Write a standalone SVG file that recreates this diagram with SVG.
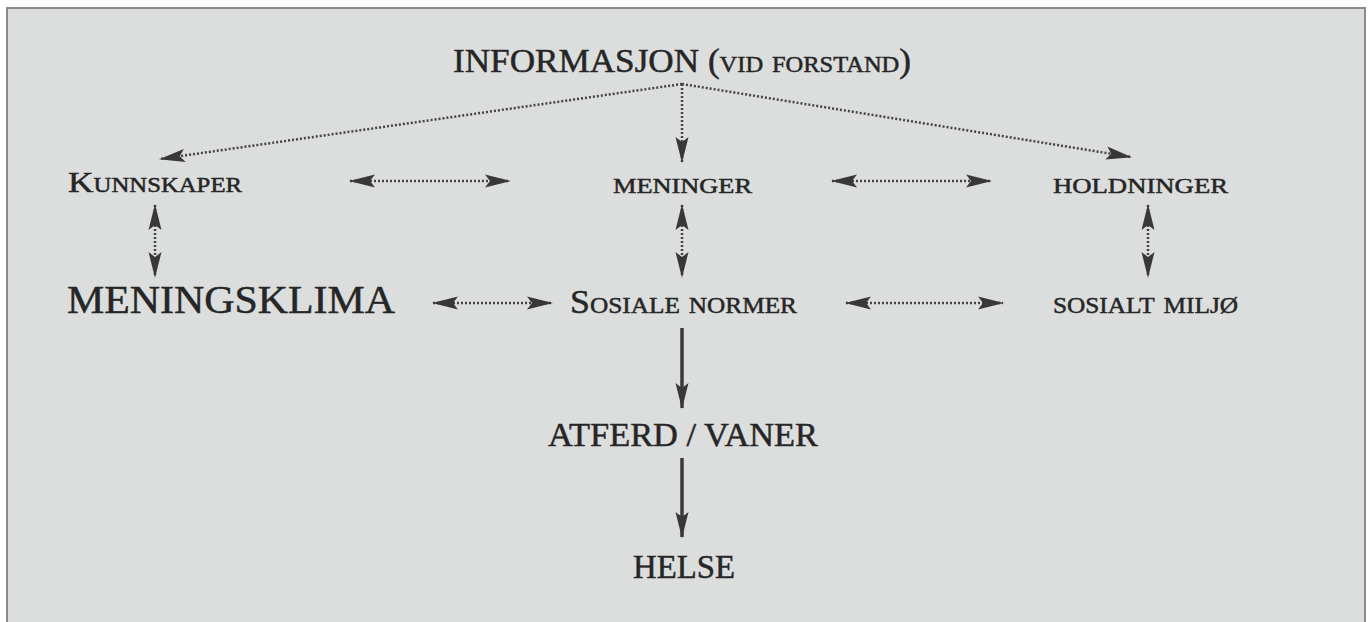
<svg xmlns="http://www.w3.org/2000/svg" width="1370" height="622" viewBox="0 0 1370 622">
<style>
text{font-family:"Liberation Serif","Times New Roman",serif;fill:#262626;stroke:#262626;stroke-width:0.5;}
.sc{font-variant:small-caps;}
.dot{stroke:#444;stroke-width:2.5;stroke-dasharray:2 2;fill:none;}
.solid{stroke:#3a3a3a;stroke-width:3.5;fill:none;}
</style>
<defs>
<marker id="ah" markerUnits="userSpaceOnUse" viewBox="0 0 26 14" markerWidth="26" markerHeight="14" refX="25" refY="7" orient="auto-start-reverse">
<path d="M0,0.5 L26,7 L0,13.5 L5,7 Z" fill="#383838"/>
</marker>
</defs>
<rect x="0" y="0" width="1370" height="622" fill="#ffffff"/>
<rect x="7" y="8" width="1358" height="640" fill="#dcdedd" stroke="#8a8a8a" stroke-width="2"/>

<g id="connectors">
<line class="dot" x1="682" y1="84" x2="160" y2="159" marker-end="url(#ah)"/>
<line class="dot" x1="682" y1="84" x2="682" y2="162" marker-end="url(#ah)"/>
<line class="dot" x1="682" y1="84" x2="1131" y2="157" marker-end="url(#ah)"/>
<line class="dot" x1="350" y1="181" x2="510" y2="181" marker-start="url(#ah)" marker-end="url(#ah)"/>
<line class="dot" x1="832" y1="181" x2="991" y2="181" marker-start="url(#ah)" marker-end="url(#ah)"/>
<line class="dot" x1="155" y1="205" x2="155" y2="277" marker-start="url(#ah)" marker-end="url(#ah)"/>
<line class="dot" x1="682" y1="205" x2="682" y2="277" marker-start="url(#ah)" marker-end="url(#ah)"/>
<line class="dot" x1="1148" y1="205" x2="1148" y2="277" marker-start="url(#ah)" marker-end="url(#ah)"/>
<line class="dot" x1="433" y1="303" x2="552" y2="303" marker-start="url(#ah)" marker-end="url(#ah)"/>
<line class="dot" x1="846" y1="303" x2="1003" y2="303" marker-start="url(#ah)" marker-end="url(#ah)"/>
<line class="solid" x1="682" y1="328" x2="682" y2="408" marker-end="url(#ah)"/>
<line class="solid" x1="682" y1="458" x2="682" y2="537" marker-end="url(#ah)"/>
</g>

<g id="informasjon"><text class="sc" x="453" y="72" font-size="33" textLength="458" lengthAdjust="spacingAndGlyphs">INFORMASJON (vid forstand)</text></g>
<g id="kunnskaper"><text class="sc" x="68" y="192" font-size="30" textLength="174" lengthAdjust="spacingAndGlyphs">Kunnskaper</text></g>
<g id="meninger"><text class="sc" x="613" y="193" font-size="32" textLength="139" lengthAdjust="spacingAndGlyphs">meninger</text></g>
<g id="holdninger"><text class="sc" x="1053" y="193" font-size="32" textLength="175" lengthAdjust="spacingAndGlyphs">holdninger</text></g>
<g id="meningsklima"><text x="67" y="313" font-size="41" textLength="328" lengthAdjust="spacingAndGlyphs">MENINGSKLIMA</text></g>
<g id="sosiale-normer"><text class="sc" x="570" y="313" font-size="34" textLength="227" lengthAdjust="spacingAndGlyphs">Sosiale normer</text></g>
<g id="sosialt-miljo"><text class="sc" x="1053" y="313" font-size="34" textLength="185" lengthAdjust="spacingAndGlyphs">sosialt miljø</text></g>
<g id="atferd-vaner"><text x="548" y="446" font-size="33" textLength="270" lengthAdjust="spacingAndGlyphs">ATFERD / VANER</text></g>
<g id="helse"><text x="633" y="578" font-size="33" textLength="102" lengthAdjust="spacingAndGlyphs">HELSE</text></g>
</svg>
